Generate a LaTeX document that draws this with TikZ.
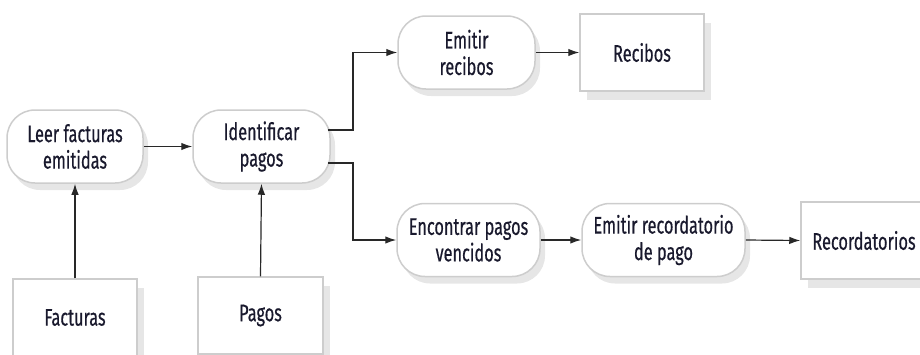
\documentclass[tikz,border=0pt]{standalone}
\usepackage{fontspec}
\setmainfont[FakeStretch=0.68,FakeBold=0.5]{Fira Sans}
\usetikzlibrary{shadows,arrows.meta}
\definecolor{txt}{RGB}{25,25,45}
\definecolor{bord}{RGB}{205,205,205}
\definecolor{shad}{RGB}{230,230,230}
\definecolor{ln}{RGB}{40,40,40}
\begin{document}
\begin{tikzpicture}[x=1pt,y=-1pt,
  proc/.style={draw=bord, line width=1.5pt, fill=white, rounded corners=28pt,
    minimum height=73pt, align=center, text=txt, inner sep=0pt,
    font=\fontsize{24}{26.5}\selectfont,
    drop shadow={shadow xshift=5pt, shadow yshift=-7pt, fill=shad, opacity=1}},
  store/.style={draw=bord, line width=1.5pt, fill=white, minimum width=124pt,
    minimum height=77pt, align=center, text=txt, inner sep=0pt,
    font=\fontsize{24}{26.5}\selectfont,
    drop shadow={shadow xshift=7pt, shadow yshift=-9pt, fill=shad, opacity=1}},
  arr/.style={draw=ln, line width=1.2pt, -{Latex[length=11pt,width=7.5pt]}}]
\useasboundingbox (0,0) rectangle (920,354);
\clip (0,0) rectangle (920,354);

\node[proc, minimum width=136pt] (leer) at (75,146.5) {Leer facturas\\emitidas};
\node[proc, minimum width=137pt] (ident) at (261.5,146.5) {Identificar\\pagos};
\node[proc, minimum width=137pt] (emrec) at (466.5,52.5) {Emitir\\recibos};
\node[store] (recibos) at (642,52.5) {Recibos};
\node[proc, minimum width=143pt] (encon) at (468.5,240) {Encontrar pagos\\vencidos};
\node[proc, minimum width=163pt] (emrecord) at (663.5,240) {Emitir recordatorio\\de pago};
\node[store, minimum width=126pt] (record) at (864,240.5) {Recordatorios};
\node[store] (fact) at (75,317.5) {Facturas};
\node[store, minimum width=125pt] (pagos) at (260.5,315.5) {Pagos};

\coordinate (u1) at ([xshift=-3pt]ident.east |- 0,130);
\coordinate (u2) at (353,130);
\coordinate (d1) at ([xshift=-3pt]ident.east |- 0,163);
\coordinate (d2) at (353,163);

\draw[arr] (leer.east) -- (ident.west);
\draw[arr] (fact.north) -- (leer.south);
\draw[arr] (pagos.north) -- (ident.south);
\draw[arr] (u1) -- (u2) -- (u2 |- emrec.west) -- (emrec.west);
\draw[arr] (d1) -- (d2) -- (d2 |- encon.west) -- (encon.west);
\draw[arr] (emrec.east) -- (recibos.west);
\draw[arr] (encon.east) -- (emrecord.west);
\draw[arr] (emrecord.east) -- (record.west);
\end{tikzpicture}
\end{document}
